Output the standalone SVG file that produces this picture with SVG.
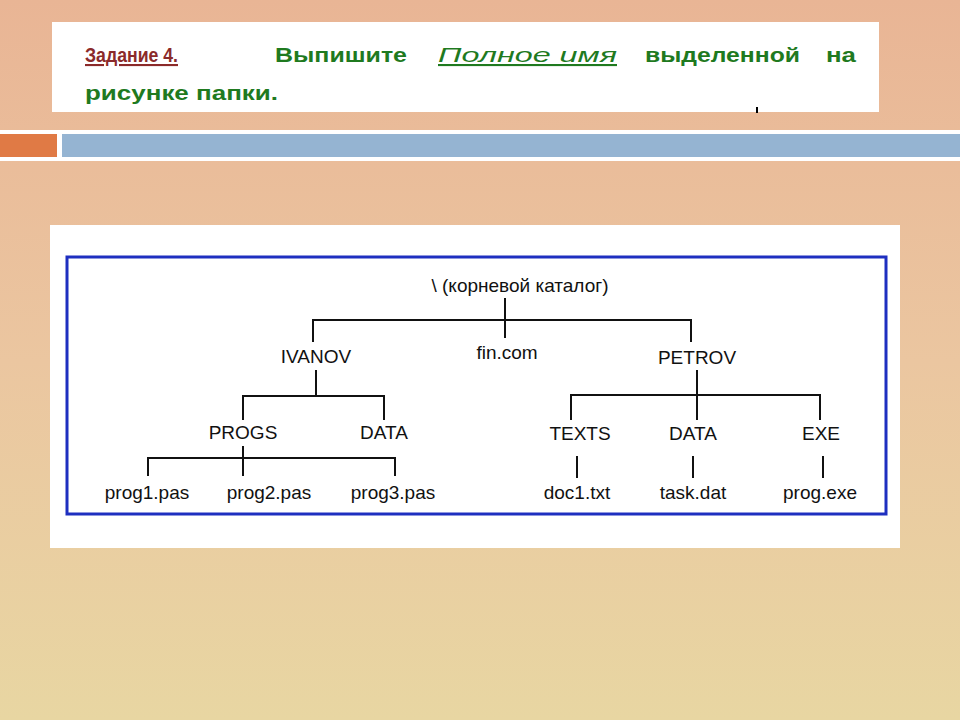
<svg xmlns="http://www.w3.org/2000/svg" width="960" height="720" viewBox="0 0 960 720">
<defs>
<linearGradient id="bg" x1="0" y1="0" x2="0" y2="1">
<stop offset="0" stop-color="#e9b595"/><stop offset="0.5" stop-color="#ebc6a0"/><stop offset="1" stop-color="#e8d6a2"/>
</linearGradient>
<style>
.h{font-family:"Liberation Sans",Arial,sans-serif;font-size:21px;font-weight:bold;fill:#1f7a1f}
.t{font-family:"Liberation Sans",Arial,sans-serif;font-size:19px;fill:#111;text-anchor:middle}
.l{stroke:#111;stroke-width:2;fill:none}
</style>
</defs>
<rect width="960" height="720" fill="url(#bg)"/>
<rect x="52" y="22" width="827" height="90" fill="#fff"/>
<rect x="0" y="130" width="960" height="31" fill="#fff"/>
<rect x="0" y="134" width="57" height="23" fill="#e07a45"/>
<rect x="62" y="134" width="898" height="23" fill="#95b4d2"/>
<text class="h" x="85" y="62" textLength="93" lengthAdjust="spacingAndGlyphs" style="fill:#8b2a2a" text-decoration="underline">Задание 4.</text>
<text class="h" x="275" y="62" textLength="132" lengthAdjust="spacingAndGlyphs">Выпишите</text>
<text class="h" x="438" y="62" textLength="179" lengthAdjust="spacingAndGlyphs" style="font-style:italic;font-weight:normal" text-decoration="underline">Полное имя</text>
<text class="h" x="645" y="62" textLength="155" lengthAdjust="spacingAndGlyphs">выделенной</text>
<text class="h" x="826" y="62" textLength="30" lengthAdjust="spacingAndGlyphs">на</text>
<text class="h" x="85" y="100" textLength="193" lengthAdjust="spacingAndGlyphs">рисунке папки.</text>
<line x1="757" y1="107" x2="757" y2="113" stroke="#000" stroke-width="2"/>
<rect x="50" y="225" width="850" height="323" fill="#fff"/>
<rect x="67" y="257" width="819" height="257" fill="none" stroke="#1e2fc0" stroke-width="3"/>
<g id="connectors">
<path class="l" d="M505 298V338M313 342V320H691V342"/>
<path class="l" d="M316 370V396M243 420V396H384V420"/>
<path class="l" d="M243 446V476M148 476V458H395V476"/>
<path class="l" d="M697 370V420M571 420V395H820V420"/>
<path class="l" d="M577 456V478M693 456V478M823 456V478"/>
</g>
<g id="root"><text class="t" x="520" y="292">\ (корневой каталог)</text></g>
<g id="ivanov"><text class="t" x="316" y="363">IVANOV</text></g>
<g id="fin"><text class="t" x="507" y="359">fin.com</text></g>
<g id="petrov"><text class="t" x="697" y="364">PETROV</text></g>
<g id="progs"><text class="t" x="243" y="439">PROGS</text></g>
<g id="data1"><text class="t" x="384" y="439">DATA</text></g>
<g id="texts"><text class="t" x="580" y="440">TEXTS</text></g>
<g id="data2"><text class="t" x="693" y="440">DATA</text></g>
<g id="exe"><text class="t" x="821" y="440">EXE</text></g>
<g id="prog1"><text class="t" x="147" y="499">prog1.pas</text></g>
<g id="prog2"><text class="t" x="269" y="499">prog2.pas</text></g>
<g id="prog3"><text class="t" x="393" y="499">prog3.pas</text></g>
<g id="doc1"><text class="t" x="577" y="499">doc1.txt</text></g>
<g id="task"><text class="t" x="693" y="499">task.dat</text></g>
<g id="progexe"><text class="t" x="820" y="499">prog.exe</text></g>
</svg>
